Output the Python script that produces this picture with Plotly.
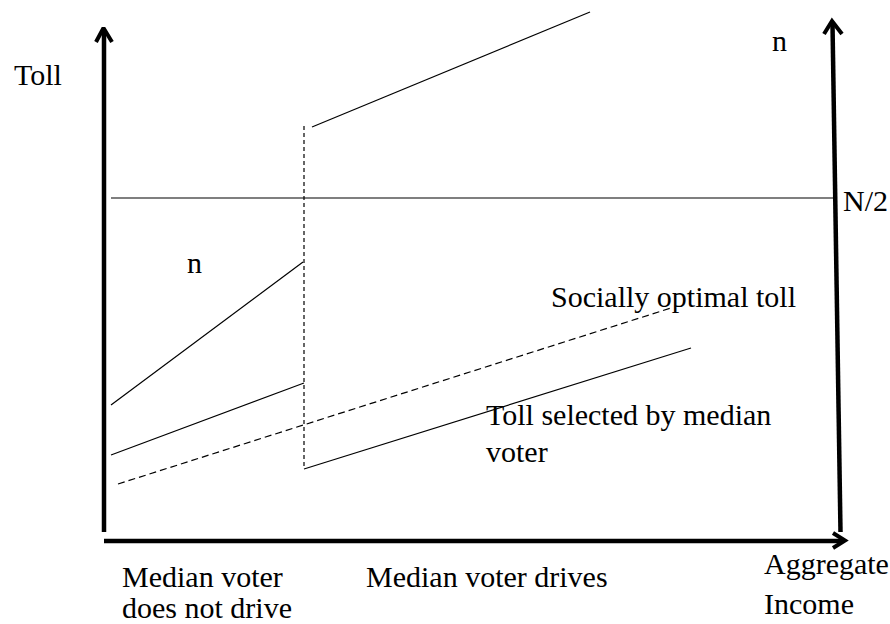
import plotly.graph_objects as go

# Diagram geometry (in picture units: x to the right, y downward)
axis_left_x = [104, 104]
axis_left_y = [532, 30]
axis_bottom_x = [104, 843]
axis_bottom_y = [541, 541]
axis_right_x = [840.5, 832.5]
axis_right_y = [532, 24]

head_left_x = [96, 103.5, 112]
head_left_y = [42, 28, 42]
head_right_x = [824, 832, 842]
head_right_y = [34, 21, 34]
head_bottom_x = [833, 845, 833]
head_bottom_y = [533, 540.5, 548]

half_n_x = [111, 836]
half_n_y = [198, 198]

n_low_x = [111, 303]
n_low_y = [405, 262]
n_high_x = [312, 590]
n_high_y = [127, 12]

jump_x = [304, 304]
jump_y = [126, 469]

toll_low_x = [111, 304]
toll_low_y = [455, 383]
toll_high_x = [304, 691]
toll_high_y = [469, 348]

optimal_x = [118, 671]
optimal_y = [484, 308]

labels = [
    ("Toll", 12, 74),
    ("n", 770, 40),
    ("N/2", 841, 200),
    ("n", 185, 262),
    ("Socially optimal toll", 549, 296),
    ("Toll selected by median", 484, 414),
    ("voter", 484, 451),
    ("Median voter", 120, 576),
    ("does not drive", 120, 607),
    ("Median voter drives", 364, 576),
    ("Aggregate", 762, 563),
    ("Income", 762, 603),
]

fig = go.Figure()

def seg(xs, ys, width=1.2, color="black", dash="solid"):
    fig.add_trace(go.Scatter(x=xs, y=ys, mode="lines",
                             line=dict(color=color, width=width, dash=dash),
                             hoverinfo="skip", showlegend=False))

seg(half_n_x, half_n_y, 1.5, "#555555")
seg(n_low_x, n_low_y)
seg(n_high_x, n_high_y)
seg(jump_x, jump_y, 1.2, "black", "4px,3px")
seg(toll_low_x, toll_low_y)
seg(toll_high_x, toll_high_y)
seg(optimal_x, optimal_y, 1.2, "black", "7px,4px")

seg(axis_left_x, axis_left_y, 4.5)
seg(axis_bottom_x, axis_bottom_y, 4.5)
seg(axis_right_x, axis_right_y, 4.5)
seg(head_left_x, head_left_y, 4)
seg(head_right_x, head_right_y, 4)
seg(head_bottom_x, head_bottom_y, 4)

for text, x, y in labels:
    fig.add_annotation(x=x, y=y, text=text, showarrow=False,
                       xanchor="left", yanchor="middle",
                       font=dict(family="Liberation Serif", size=30, color="black"))

fig.update_layout(
    width=890, height=624,
    margin=dict(l=0, r=0, t=0, b=0),
    plot_bgcolor="white", paper_bgcolor="white",
    hovermode=False,
    xaxis=dict(range=[0, 890], visible=False, fixedrange=True),
    yaxis=dict(range=[624, 0], visible=False, fixedrange=True),
)

# remove the default page margin so the 890x624 figure fills the window exactly
fig.write_html("out.html",
               config={"displayModeBar": False, "staticPlot": True},
               post_script="document.body.style.margin='0';document.body.style.overflow='hidden';")
